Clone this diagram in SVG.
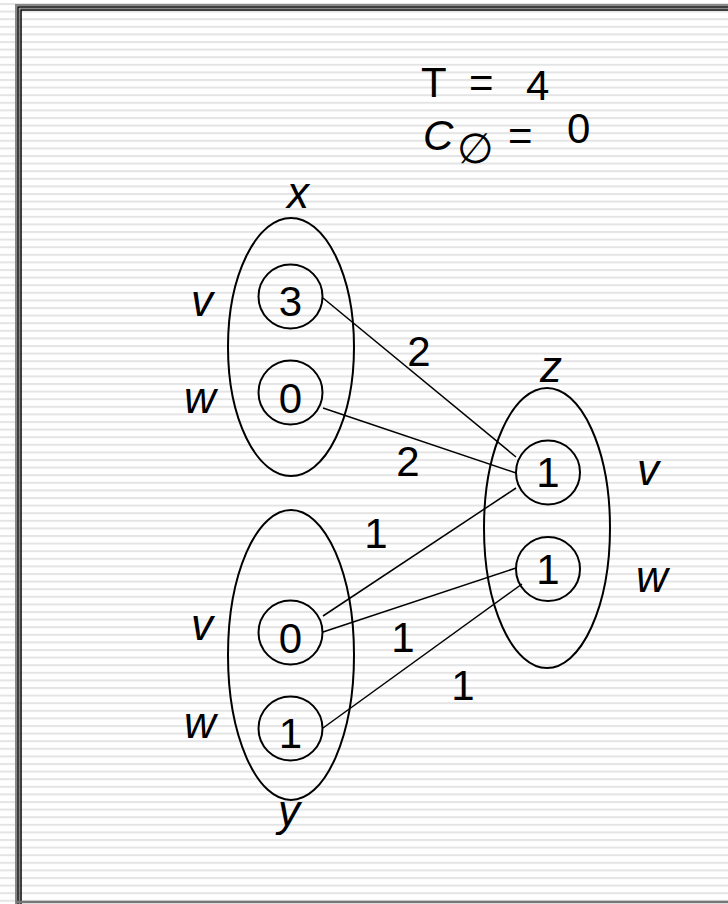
<svg xmlns="http://www.w3.org/2000/svg" width="728" height="904" viewBox="0 0 728 904">
<defs>
<pattern id="stripes" x="0" y="3" width="728" height="7.6" patternUnits="userSpaceOnUse">
<rect x="0" y="0" width="728" height="7.6" fill="#ffffff"/>
<rect x="0" y="0" width="728" height="2" fill="#e4e4e4"/>
</pattern>
</defs>
<style>
.ell{fill:none;stroke:#000;stroke-width:2}
.nd{fill:none;stroke:#000;stroke-width:2}
.edge{stroke:#000;stroke-width:1.5;fill:none}
.t{font-family:"Liberation Sans",Arial,sans-serif;font-size:42px;fill:#000}
.it{font-style:italic;font-size:44px}
.c{text-anchor:middle}
</style>
<rect x="0" y="0" width="728" height="904" fill="url(#stripes)"/>
<g id="frame" fill="none">
<path d="M16 904 V5 H728" stroke="#888" stroke-width="2"/>
<path d="M18 904 V7 H728" stroke="#000" stroke-width="1.5"/>
<path d="M19.5 904 V8.5 H728" stroke="#888" stroke-width="1"/>
<path d="M21 904 V10 H728" stroke="#000" stroke-width="1.5"/>
<path d="M16 902 H728" stroke="#777" stroke-width="2.5"/>
</g>
<g id="header">
<text class="t" x="421" y="97" font-size="47">T</text>
<text class="t" x="469" y="97">=</text>
<text class="t" x="526" y="100">4</text>
<text class="t" x="423" y="150" font-size="41" font-style="italic">C</text>
<text class="t" x="457" y="163" font-size="29">∅</text>
<text class="t" x="508" y="150">=</text>
<text class="t" x="567" y="143">0</text>
</g>
<g id="connectors">
<line class="edge" x1="323" y1="298" x2="516" y2="457"/>
<line class="edge" x1="323" y1="408" x2="516" y2="473"/>
<line class="edge" x1="323" y1="616" x2="516" y2="488"/>
<line class="edge" x1="323" y1="632" x2="516" y2="568"/>
<line class="edge" x1="323" y1="728" x2="522" y2="584"/>
<text class="t c" x="419" y="366">2</text>
<text class="t c" x="408" y="476">2</text>
<text class="t c" x="376" y="548">1</text>
<text class="t c" x="403" y="652">1</text>
<text class="t c" x="463" y="700">1</text>
</g>
<g id="set-x">
<ellipse class="ell" cx="291" cy="347" rx="63" ry="129"/>
<text class="t it c" x="298" y="208">x</text>
<text class="t it c" x="202" y="316">v</text>
<text class="t it c" x="200" y="413">w</text>
</g>
<g id="set-z">
<ellipse class="ell" cx="547" cy="528" rx="63" ry="140"/>
<text class="t it c" x="551" y="382">z</text>
<text class="t it c" x="648" y="485">v</text>
<text class="t it c" x="652" y="592">w</text>
</g>
<g id="set-y">
<ellipse class="ell" cx="291" cy="655" rx="63" ry="145"/>
<text class="t it c" x="289" y="826">y</text>
<text class="t it c" x="202" y="640">v</text>
<text class="t it c" x="200" y="738">w</text>
</g>
<g id="node-xv"><circle class="nd" cx="290.5" cy="296.5" r="32"/><text class="t c" x="290.5" y="316">3</text></g>
<g id="node-xw"><circle class="nd" cx="290.5" cy="392.5" r="32"/><text class="t c" x="290.5" y="413">0</text></g>
<g id="node-zv"><circle class="nd" cx="548" cy="472.5" r="32"/><text class="t c" x="548" y="487">1</text></g>
<g id="node-zw"><circle class="nd" cx="548" cy="569" r="32"/><text class="t c" x="548" y="584">1</text></g>
<g id="node-yv"><circle class="nd" cx="290.5" cy="632.5" r="32"/><text class="t c" x="290.5" y="653">0</text></g>
<g id="node-yw"><circle class="nd" cx="290.5" cy="728.5" r="32"/><text class="t c" x="290.5" y="748">1</text></g>
</svg>
